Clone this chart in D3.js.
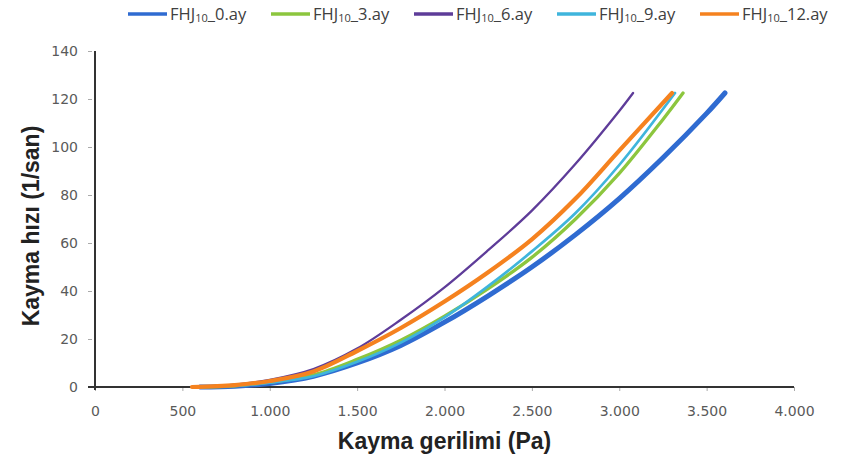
<!DOCTYPE html>
<html>
<head>
<meta charset="utf-8">
<script src="https://cdn.jsdelivr.net/npm/d3@7"></script>
<style>
    body { margin: 0; background: #fff; }
    .tick text { font-family: "DejaVu Sans", sans-serif; font-size: 14px; fill: #5a5a5a; }
    .axis-title { font-family: "Liberation Sans", Arial, sans-serif; font-weight: bold; font-size: 23px; fill: #222; }
    .legend text { font-family: "Open Sans", sans-serif; font-size: 16.5px; fill: #404040; }
</style>
</head>
<body>
<div id="chart"></div>
<script>
// series names (legend order), each with its own points [stress Pa, shear rate 1/s]
let seriesNames = ["0", "3", "6", "9", "12"];
let seriesColors = ["#2f6bd1", "#8cc63e", "#5e3c99", "#3fb5dc", "#f5821f"];
let seriesWidths = [5, 3.3, 2.3, 2.7, 4.2];

let fhj0 = [[600, 0], [800, 0.3], [1000, 1.5], [1250, 4.5], [1500, 10], [1750, 17.3], [2000, 27], [2250, 38],
    [2500, 50], [2750, 63.5], [3000, 78.5], [3250, 95.5], [3500, 114], [3605, 122.5]];
let fhj3 = [[590, 0], [800, 0.5], [1000, 2], [1250, 5], [1500, 11.5], [1750, 19.5], [2000, 29.5], [2250, 41],
    [2500, 54], [2750, 70], [3000, 89], [3250, 111.5], [3365, 122.5]];
let fhj6 = [[560, 0], [800, 1], [1000, 3], [1250, 7.5], [1500, 16], [1750, 28], [2000, 41.5], [2250, 57],
    [2500, 73.5], [2750, 93], [3000, 115], [3079, 122.5]];
let fhj9 = [[580, 0], [800, 0.5], [1000, 1.8], [1250, 4.5], [1500, 10.5], [1750, 18.5], [2000, 29], [2250, 42],
    [2500, 56.5], [2750, 72.5], [3000, 92.5], [3319, 122.5]];
let fhj12 = [[555, 0], [800, 0.8], [1000, 2.5], [1250, 6.5], [1500, 15], [1750, 24.6], [2000, 35.6], [2250, 47.8],
    [2500, 61.5], [2750, 78.5], [3000, 98.5], [3302, 122.5]];

let xTicks = [0, 500, 1000, 1500, 2000, 2500, 3000, 3500, 4000];
let yTicks = [0, 20, 40, 60, 80, 100, 120, 140];

let allSeries = [fhj0, fhj3, fhj6, fhj9, fhj12];

let width = 848, height = 455;

let svg = d3.select("#chart").append("svg")
    .attr("width", width)
    .attr("height", height);

// Scales
let x = d3.scaleLinear().domain([0, 4000]).range([95, 794]);
let y = d3.scaleLinear().domain([0, 140]).range([387, 51]);

// number format with dot as thousands separator
let fmt = function(d) { return d3.format(",")(d).replace(/,/g, "."); };

// Axes
let xAxis = d3.axisBottom(x).tickValues(xTicks).tickFormat(fmt).tickSize(4).tickPadding(15);
let yAxis = d3.axisLeft(y).tickValues(yTicks).tickSize(4).tickPadding(10);

let gx = svg.append("g")
    .attr("class", "x-axis axis")
    .attr("transform", "translate(0," + y(0) + ")")
    .call(xAxis);
gx.select(".domain").remove();
gx.selectAll(".tick line").attr("stroke", "#aaa");

let gy = svg.append("g")
    .attr("class", "y-axis axis")
    .attr("transform", "translate(" + (x(0) - 3) + ",0)")
    .call(yAxis);
gy.select(".domain").remove();
gy.selectAll(".tick line").attr("stroke", "#aaa");

// axis lines
svg.append("line")
    .attr("x1", x(0)).attr("x2", x(0))
    .attr("y1", y(140)).attr("y2", y(0) + 3)
    .attr("stroke", "#333").attr("stroke-width", 2);
svg.append("line")
    .attr("x1", x(0) - 7).attr("x2", x(4000))
    .attr("y1", y(0)).attr("y2", y(0))
    .attr("stroke", "#333").attr("stroke-width", 2);

// Curves
let line = d3.line()
    .curve(d3.curveCatmullRom.alpha(0.5))
    .x(function(d) { return x(d[0]); })
    .y(function(d) { return y(d[1]); });

allSeries.forEach(function(s, i) {
    svg.append("path")
        .attr("d", line(s))
        .attr("fill", "none")
        .attr("stroke", seriesColors[i])
        .attr("stroke-width", seriesWidths[i])
        .attr("stroke-linecap", "round");
});

// Axis titles
svg.append("text")
    .attr("class", "axis-title")
    .attr("x", (x(0) + x(4000)) / 2)
    .attr("y", 449)
    .attr("text-anchor", "middle")
    .text("Kayma gerilimi (Pa)");

svg.append("text")
    .attr("class", "axis-title")
    .attr("transform", "translate(39,226) rotate(-90)")
    .attr("text-anchor", "middle")
    .text("Kayma hızı (1/san)");

// Legend
let legendX = [128, 271, 414, 557, 700];
let legend = svg.append("g").attr("class", "legend");

seriesNames.forEach(function(name, i) {
    let g = legend.append("g").attr("transform", "translate(" + legendX[i] + ",14)");
    g.append("line")
        .attr("x1", 0).attr("x2", 39)
        .attr("y1", 0).attr("y2", 0)
        .attr("stroke", seriesColors[i])
        .attr("stroke-width", 3.5);
    let t = g.append("text").attr("x", 42).attr("y", 6);
    t.append("tspan").text("FHJ");
    t.append("tspan").attr("font-size", "11px").attr("dy", 2).text("10");
    t.append("tspan").attr("dy", -2).text("_" + name + ".ay");
});
</script>
</body>
</html>
